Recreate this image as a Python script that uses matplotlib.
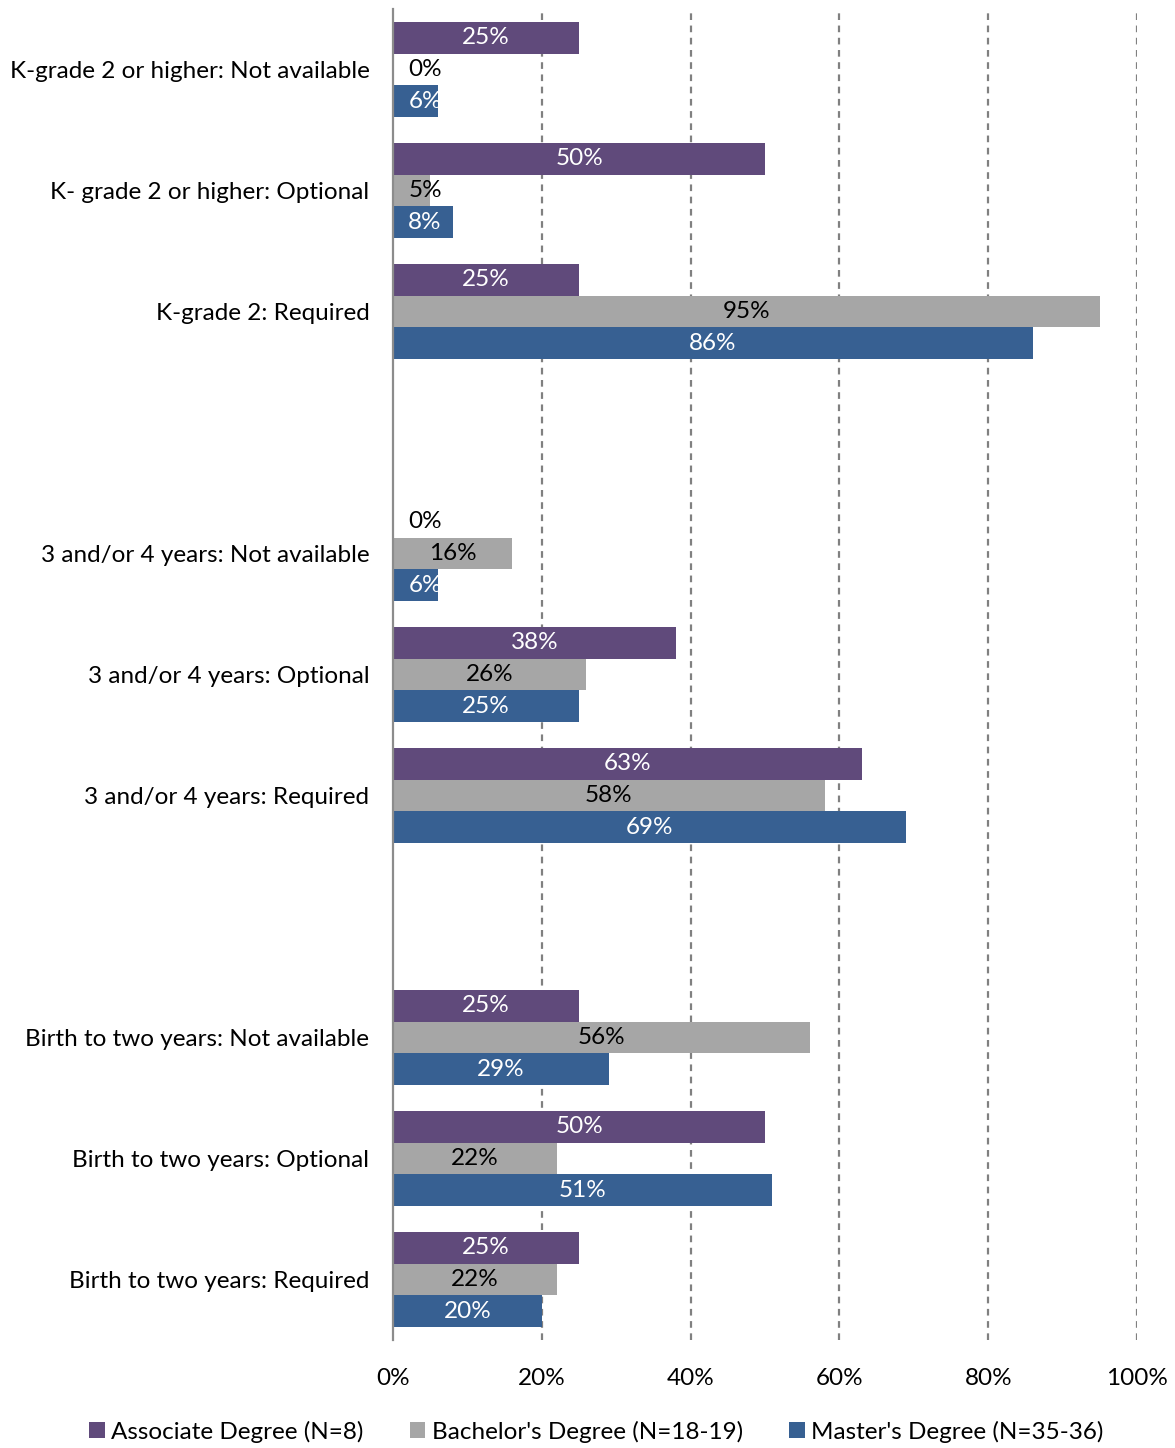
import matplotlib.pyplot as plt
import numpy as np

plt.rcParams['font.family'] = ['Lato', 'DejaVu Sans']

# Category rows, top to bottom (blank rows separate the age bands)
categories = [
    'K-grade 2 or higher: Not available',
    'K- grade 2 or higher: Optional',
    'K-grade 2: Required',
    '',
    '3 and/or 4 years: Not available',
    '3 and/or 4 years: Optional',
    '3 and/or 4 years: Required',
    '',
    'Birth to two years: Not available',
    'Birth to two years: Optional',
    'Birth to two years: Required',
]

associate = [25, 50, 25, np.nan, 0, 38, 63, np.nan, 25, 50, 25]
bachelor = [0, 5, 95, np.nan, 16, 26, 58, np.nan, 56, 22, 22]
master = [6, 8, 86, np.nan, 6, 25, 69, np.nan, 29, 51, 20]

series_names = ['Associate Degree (N=8)', "Bachelor's Degree (N=18-19)",
                "Master's Degree (N=35-36)"]
series_values = [associate, bachelor, master]
colors = ['#604A7B', '#A6A6A6', '#376092']
text_colors = ['white', 'black', 'white']

x_ticks = [0, 20, 40, 60, 80, 100]

fs = 17.5

fig = plt.figure(figsize=(11.75, 14.48), dpi=100)
ax = fig.add_axes([0.3345, 0.0745, 0.6332, 0.9192])

y = np.arange(len(categories))
h = 0.262
offsets = [-h, 0, h]

for vals, off, col, tcol, name in zip(series_values, offsets, colors, text_colors, series_names):
    vals = np.array(vals, dtype=float)
    ax.barh(y + off, vals, height=h, color=col, label=name, zorder=3)
    for yi, v in zip(y, vals):
        if np.isnan(v):
            continue
        xpos = max(v / 2, 4.3)
        c = 'black' if v == 0 else tcol
        ax.text(xpos, yi + off, f'{v:.0f}%', ha='center', va='center',
                color=c, fontsize=fs, zorder=4)

ax.set_ylim(len(categories) - 0.5, -0.5)
ax.set_xlim(0, 100)
ax.set_yticks(y)
ax.set_yticklabels(categories, fontsize=fs)
ax.set_xticks(x_ticks)
ax.set_xticklabels([f'{t}%' for t in x_ticks], fontsize=fs)
ax.tick_params(axis='both', length=0)
ax.tick_params(axis='y', pad=17)
ax.tick_params(axis='x', pad=20)

# dashed vertical gridlines, solid axis line at 0
for t in x_ticks[1:]:
    ax.axvline(t, color='#808080', linestyle=(0, (3, 2.5)), linewidth=1.6, zorder=1)
for s in ['top', 'right', 'bottom']:
    ax.spines[s].set_visible(False)
ax.spines['left'].set_color('#8C8C8C')
ax.spines['left'].set_linewidth(1.6)
ax.spines['left'].set_zorder(5)

ax.legend(loc='upper center', bbox_to_anchor=(0.273, -0.044), ncol=3, frameon=False,
          fontsize=fs, handlelength=0.65, handleheight=0.65, handletextpad=0.25,
          columnspacing=1.9)

plt.savefig('out.png', dpi=100)
